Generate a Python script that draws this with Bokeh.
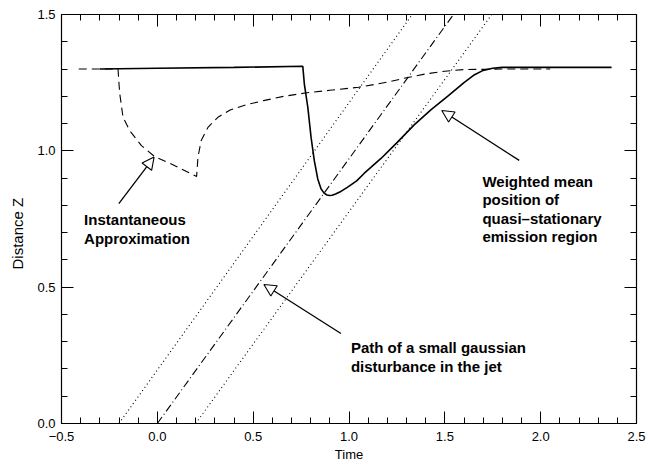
import numpy as np
from bokeh.plotting import figure
from bokeh.models import (Range1d, LinearAxis, FixedTicker, Arrow, NormalHead, Label,
                          PrintfTickFormatter, Title)
from bokeh.embed import file_html
from bokeh.resources import INLINE

# ---------------- data ----------------
# weighted mean position of quasi-stationary emission region (solid)
mean_t = [-0.30, 0.00, 0.40, 0.759, 0.767, 0.785, 0.802, 0.819, 0.837, 0.854,
          0.870, 0.885, 0.898, 0.912, 0.930, 0.960, 0.993, 1.040, 1.080, 1.167,
          1.253, 1.340, 1.427, 1.514, 1.600, 1.650, 1.700, 1.750, 1.800, 1.900, 2.370]
mean_z = [1.300, 1.303, 1.306, 1.310, 1.245, 1.160, 1.050, 0.964, 0.897, 0.861,
          0.845, 0.838, 0.836, 0.837, 0.842, 0.852, 0.867, 0.890, 0.918, 0.972,
          1.032, 1.095, 1.150, 1.200, 1.250, 1.277, 1.295, 1.303, 1.306, 1.306, 1.306]

# instantaneous approximation (dashed)
inst_t = [-0.41, -0.205, -0.201, -0.196, -0.179, -0.144, -0.083, -0.014, 0.073, 0.205,
          0.212, 0.229, 0.264, 0.316, 0.380, 0.470, 0.560, 0.660, 0.780, 0.900,
          1.050, 1.200, 1.300, 1.400, 1.500, 1.600, 1.800, 2.050]
inst_z = [1.300, 1.300, 1.255, 1.209, 1.123, 1.074, 1.019, 0.979, 0.952, 0.906,
          0.977, 1.038, 1.086, 1.123, 1.150, 1.170, 1.185, 1.200, 1.213, 1.222,
          1.233, 1.252, 1.268, 1.282, 1.292, 1.298, 1.300, 1.300]

# path of the gaussian disturbance (centre dash-dot, edges dotted)
path_t_start = [-0.20, 0.00, 0.20]
path_t_end = [1.330, 1.545, 1.745]
path_z = [0.0, 1.5]
path_dash = ["1 3", "8 3 1 3", "1 3"]

x_ticks = [-0.5, 0.0, 0.5, 1.0, 1.5, 2.0, 2.5]
y_ticks = [0.0, 0.5, 1.0, 1.5]
x_minor = [round(-0.5 + 0.1 * i, 2) for i in range(31)]
y_minor = [round(0.1 * i, 2) for i in range(16)]

# annotations: text lines (x, baseline y) and arrows (tail -> tip)
note_lines = ["Instantaneous", "Approximation",
              "Weighted mean", "position of", "quasi\u2013stationary", "emission region",
              "Path of a small gaussian", "disturbance in the jet"]
note_x = [-0.382, -0.382, 1.696, 1.696, 1.696, 1.696, 1.010, 1.010]
note_y = [0.747, 0.678, 0.889, 0.821, 0.751, 0.684, 0.278, 0.210]
arrow_tail_x = [-0.201, 1.888, 0.958]
arrow_tail_y = [0.806, 0.965, 0.330]
arrow_tip_x = [-0.017, 1.484, 0.556]
arrow_tip_y = [0.977, 1.148, 0.510]

FONT = "Liberation Sans"

p = figure(width=648, height=464, output_backend="svg", toolbar_location=None,
           x_range=Range1d(-0.5, 2.5), y_range=Range1d(0.0, 1.5),
           x_axis_location=None, y_axis_location=None,
           min_border_left=60, min_border_right=12, min_border_top=14,
           min_border_bottom=40)
p.grid.visible = False
p.outline_line_color = None
p.background_fill_color = "white"
p.border_fill_color = "white"

bottom = LinearAxis(axis_label="Time")
left = LinearAxis()
top = LinearAxis()
right = LinearAxis()
p.add_layout(bottom, "below")
p.add_layout(left, "left")
p.add_layout(top, "above")
p.add_layout(right, "right")

for ax in [bottom, top]:
    ax.ticker = FixedTicker(ticks=x_ticks, minor_ticks=x_minor)
for ax in [left, right]:
    ax.ticker = FixedTicker(ticks=y_ticks, minor_ticks=y_minor)

for ax in [bottom, left, top, right]:
    ax.formatter = PrintfTickFormatter(format="%.1f")
    ax.axis_line_color = "black"
    ax.axis_line_width = 1.2
    ax.major_tick_in = 12
    ax.major_tick_out = 0
    ax.minor_tick_in = 6
    ax.minor_tick_out = 0
    ax.major_tick_line_color = "black"
    ax.minor_tick_line_color = "black"
    ax.major_label_text_font = FONT
    ax.major_label_text_font_size = "13px"
    ax.major_label_text_color = "black"
    ax.axis_label_text_font = FONT
    ax.axis_label_text_font_size = "13px"
    ax.axis_label_text_font_style = "normal"
    ax.axis_label_text_color = "black"

for ax in [top, right]:
    ax.major_label_text_font_size = "1px"
    ax.major_label_text_color = None
    ax.major_label_standoff = 0

bottom.major_label_standoff = 8
bottom.axis_label_standoff = 3
left.major_label_standoff = 6
bottom.major_label_overrides = {-0.5: "\u22120.5"}

# y axis title, placed as in the reference (slightly below the axis centre)
ytitle = Title(text="Distance Z", align="left", offset=154, vertical_align="middle",
               text_font=FONT, text_font_size="15px", text_font_style="normal",
               text_color="black", standoff=15)
p.add_layout(ytitle, "left")

# curves
p.line(inst_t, inst_z, line_color="black", line_width=1.1, line_dash="8 5")
p.line(mean_t, mean_z, line_color="black", line_width=1.6)
for t0, t1, dash in zip(path_t_start, path_t_end, path_dash):
    p.line([t0, t1], path_z, line_color="black", line_width=1.1, line_dash=dash)

# annotations
for txt, x, y in zip(note_lines, note_x, note_y):
    p.add_layout(Label(x=x, y=y, text=txt, text_font=FONT, text_font_size="15px",
                       text_font_style="bold", text_color="black",
                       text_align="left", text_baseline="alphabetic"))
for x0, y0, x1, y1 in zip(arrow_tail_x, arrow_tail_y, arrow_tip_x, arrow_tip_y):
    p.add_layout(Arrow(end=NormalHead(size=12, fill_color="white", line_color="black",
                                      line_width=1.1),
                       x_start=x0, y_start=y0, x_end=x1, y_end=y1,
                       line_color="black", line_width=1.3))

open("out.html", "w").write(file_html(p, INLINE))
